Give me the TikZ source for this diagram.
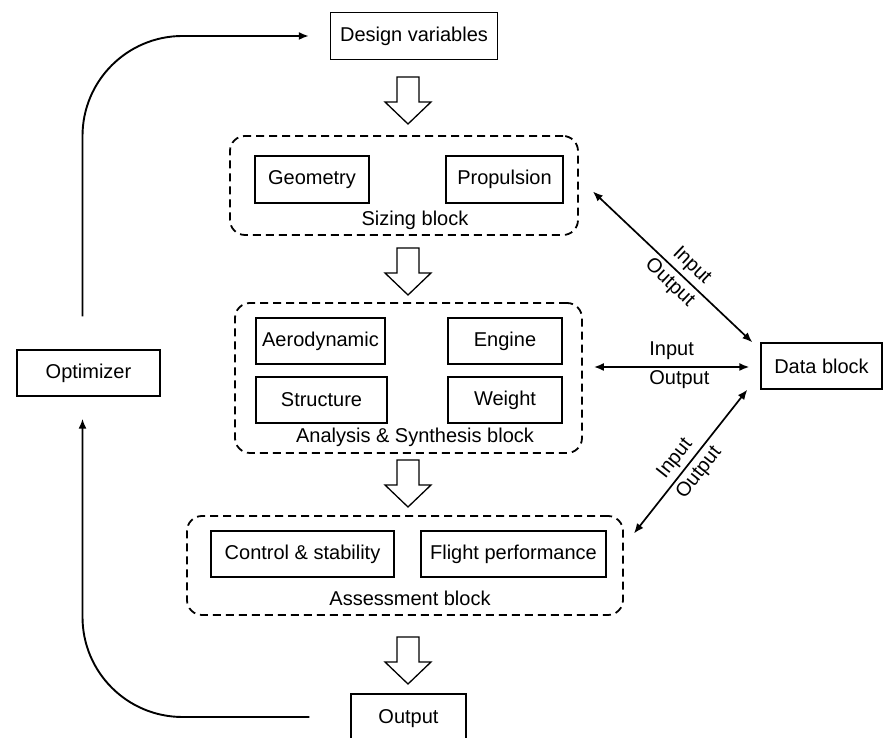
\documentclass[tikz,border=0pt]{standalone}
\usepackage{fontspec}
\setmainfont{Liberation Sans}
\usepackage{tikz}
\usetikzlibrary{arrows.meta,calc}
\tikzstyle{bx}=[rectangle,draw=black,line width=1.3pt,inner sep=0pt,
  minimum height=46pt]
\tikzstyle{blk}=[rectangle,draw=black,dash pattern=on 8pt off 5pt,
  line width=1.8pt,rounded corners=15pt,inner sep=0pt]
\tikzstyle{ha}=[draw=black,fill=white,line width=1.3pt,line join=miter]
\tikzstyle{io}=[line width=1.7pt,{Latex[length=10pt,width=8pt]}-{Latex[length=10pt,width=8pt]}]
\tikzstyle{fb}=[line width=1.9pt,rounded corners=100pt,-{Latex[length=10pt,width=8pt]}]

\begin{document}
\begin{tikzpicture}[x=1pt,y=1pt,font=\fontsize{20}{23}\selectfont]
        \useasboundingbox (0,0) rectangle (884,738);
        \clip (0,0) rectangle (884,738);
        % dashed blocks
        \node [style=blk,minimum width=348pt,minimum height=99pt] (sz) at (404,552.5) {};
        \node [style=blk,minimum width=347pt,minimum height=150pt] (an) at (408.5,360) {};
        \node [style=blk,minimum width=436pt,minimum height=99pt] (as) at (405,172.5) {};
        \node (szl) at (415,518) {Sizing block};
        \node (anl) at (415,301) {Analysis \& Synthesis block};
        \node (asl) at (410,140) {Assessment block};
        % boxes
        \node [style=bx,minimum width=167pt,minimum height=47pt] (dv) at (414,702) {Design variables};
        \node [style=bx,minimum width=114pt,minimum height=47pt] (geo) at (312,558.5) {Geometry};
        \node [style=bx,minimum width=117pt,minimum height=47pt] (prop) at (504.5,558.5) {Propulsion};
        \node [style=bx,minimum width=129pt] (aero) at (320.5,397) {Aerodynamic};
        \node [style=bx,minimum width=114pt] (eng) at (505,397) {Engine};
        \node [style=bx,minimum width=131pt] (str) at (321.5,338) {Structure};
        \node [style=bx,minimum width=114pt] (wgt) at (505,338) {Weight};
        \node [style=bx,minimum width=183pt] (ctrl) at (302.5,184) {Control \& stability};
        \node [style=bx,minimum width=185pt] (flt) at (513.5,184) {Flight performance};
        \node [style=bx,minimum width=143pt] (opt) at (88.5,365) {Optimizer};
        \node [style=bx,minimum width=121pt] (data) at (821.5,372) {Data block};
        \node [style=bx,minimum width=115pt,minimum height=50pt] (out) at (408.5,19) {Output};
        % hollow arrows between blocks
        \foreach \t in {661,490,278,101} {
            \draw [style=ha] (397,\t) -- (419,\t) -- (419,\t-25) -- (431,\t-25)
                -- (408,\t-47) -- (385,\t-25) -- (397,\t-25) -- cycle;
        }
        % data exchange
        \draw [style=io] ([xshift=14pt,yshift=-6pt]sz.east) -- ([xshift=-8pt]data.north west)
            node [pos=0.56,sloped,above,inner sep=4pt] {Input}
            node [pos=0.54,sloped,below,inner sep=4pt] {Output};
        \draw [style=io] ([xshift=11pt,yshift=11pt]an.east) -- ([xshift=-11pt,yshift=-1pt]data.west)
            node [midway,above,inner sep=6pt] {Input}
            node [pos=0.55,below,inner sep=3pt] {Output};
        \draw [style=io] ([xshift=10pt,yshift=32pt]as.east) -- ([xshift=-13pt]data.south west)
            node [pos=0.46,sloped,above,inner sep=4pt] {Input}
            node [pos=0.48,sloped,below,inner sep=4pt] {Output};
        % optimization loop
        \draw [style=fb] ([xshift=-6pt,yshift=33pt]opt.north) |- ([xshift=-21pt]dv.west);
        \draw [style=fb] ([xshift=-41pt,yshift=2pt]out.west) -| ([xshift=-6pt,yshift=-22pt]opt.south);
    \end{tikzpicture}
\end{document}
